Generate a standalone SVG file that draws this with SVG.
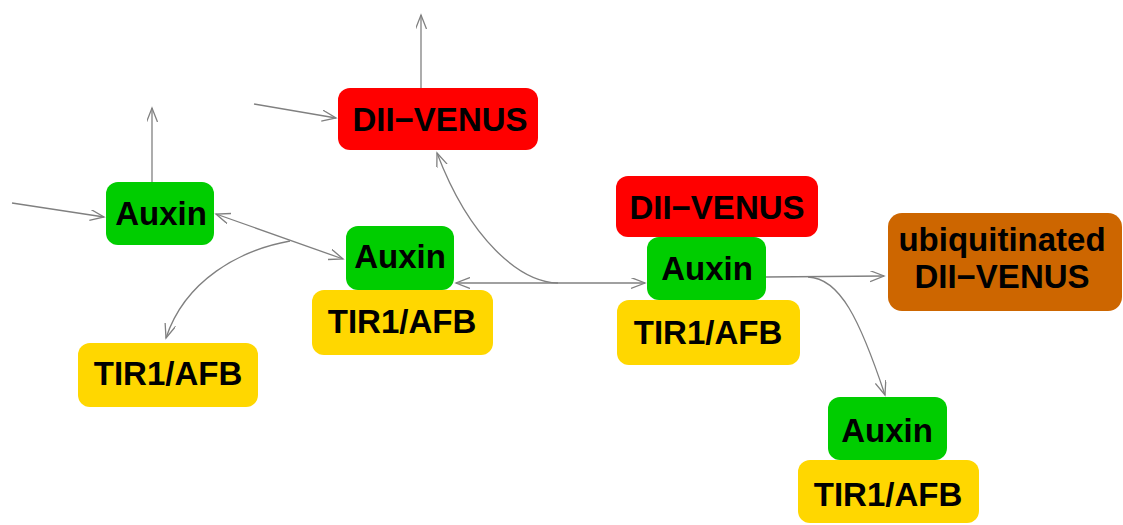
<svg xmlns="http://www.w3.org/2000/svg" width="1123" height="525" viewBox="0 0 1123 525">
<style>
.red{fill:#ff0000}.grn{fill:#00cd00}.gld{fill:#ffd700}.org{fill:#cd6600}
text{font-family:"Liberation Sans",Arial,sans-serif;font-weight:bold;font-size:33px;fill:#000;text-anchor:middle}
.e{fill:none;stroke:#808080;stroke-width:1.3}
</style>
<defs>
<marker id="ah" markerUnits="userSpaceOnUse" markerWidth="16" markerHeight="12" refX="14" refY="5.5" orient="auto-start-reverse" viewBox="0 0 16 12">
<path d="M0,0 L14,5.5 L0,11" fill="none" stroke="#808080" stroke-width="1.3"/>
</marker>
</defs>
<g id="edges">
<path class="e" d="M12,203 L104,217" marker-end="url(#ah)"/>
<path class="e" d="M152,182 L152,108" marker-end="url(#ah)"/>
<path class="e" d="M254,104 L336,118" marker-end="url(#ah)"/>
<path class="e" d="M421,88 L421,15" marker-end="url(#ah)"/>
<path class="e" d="M216,214 L343,259" marker-start="url(#ah)" marker-end="url(#ah)"/>
<path class="e" d="M290,241 C240,250 185,280 166,338" marker-end="url(#ah)"/>
<path class="e" d="M456,283 L645,283" marker-start="url(#ah)" marker-end="url(#ah)"/>
<path class="e" d="M558,283 C520,282 470,240 437,153" marker-end="url(#ah)"/>
<path class="e" d="M766,277 L884,276" marker-end="url(#ah)"/>
<path class="e" d="M808,277 C840,278 860,320 885,395" marker-end="url(#ah)"/>
</g>
<g id="n1"><rect class="red" x="338" y="88" width="200" height="62" rx="12"/><text x="440" y="131">DII−VENUS</text></g>
<g id="n2"><rect class="grn" x="106" y="182" width="108" height="63" rx="12"/><text x="161" y="225">Auxin</text></g>
<g id="n3"><rect class="gld" x="312" y="290" width="181" height="65" rx="12"/><text x="402" y="333">TIR1/AFB</text></g>
<g id="n4"><rect class="grn" x="346" y="226" width="108" height="64" rx="12"/><text x="400" y="268">Auxin</text></g>
<g id="n5"><rect class="gld" x="78" y="343" width="180" height="64" rx="12"/><text x="168" y="385">TIR1/AFB</text></g>
<g id="n6"><rect class="red" x="616" y="176" width="202" height="61" rx="12"/><text x="717" y="219">DII−VENUS</text></g>
<g id="n7"><rect class="gld" x="617" y="300" width="183" height="65" rx="12"/><text x="708" y="344">TIR1/AFB</text></g>
<g id="n8"><rect class="grn" x="647" y="237" width="119" height="63" rx="12"/><text x="707" y="280">Auxin</text></g>
<g id="n9"><rect class="org" x="888" y="213" width="234" height="98" rx="14"/><text x="1002" y="251">ubiquitinated</text><text x="1002" y="288">DII−VENUS</text></g>
<g id="n10"><rect class="gld" x="798" y="460" width="181" height="63" rx="12"/><text x="888" y="506">TIR1/AFB</text></g>
<g id="n11"><rect class="grn" x="828" y="397" width="119" height="63" rx="12"/><text x="887" y="442">Auxin</text></g>
</svg>
